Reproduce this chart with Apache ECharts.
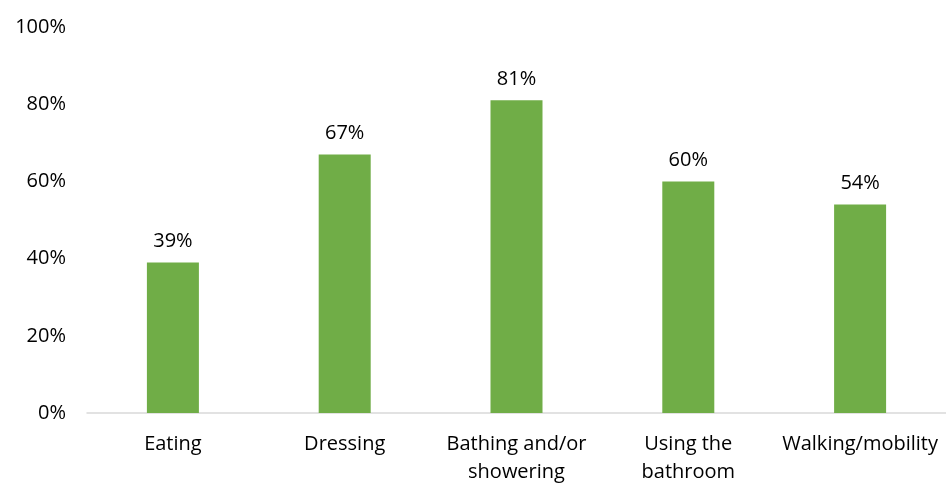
<!DOCTYPE html>
<html>
<head>
<meta charset="utf-8">
<script src="https://cdn.jsdelivr.net/npm/echarts@6/dist/echarts.min.js"></script>
<style>
  html, body { margin: 0; padding: 0; background: #fff; }
  #chart { width: 946px; height: 483px; }
</style>
</head>
<body>
<div id="chart"></div>
<script>
// Share of people needing help, by daily activity
const categories = ['Eating', 'Dressing', 'Bathing and/or\nshowering', 'Using the\nbathroom', 'Walking/mobility'];
const values = [39, 67, 81, 60, 54];
const yTicks = [0, 20, 40, 60, 80, 100];

const FONT = '"Open Sans", Lato, sans-serif';
const chart = echarts.init(document.getElementById('chart'), null, { renderer: 'canvas' });

chart.setOption({
  animation: false,
  grid: { left: 87, right: 0, top: 27, bottom: 70, containLabel: false, outerBoundsMode: 'none' },
  xAxis: {
    type: 'category',
    data: categories,
    axisLine: { lineStyle: { color: '#D9D9D9', width: 1.5 } },
    axisTick: { show: false },
    axisLabel: {
      color: '#000', fontFamily: FONT, fontSize: 20, margin: 17,
      lineHeight: 28, interval: 0
    }
  },
  yAxis: {
    type: 'value',
    min: yTicks[0],
    max: yTicks[yTicks.length - 1],
    interval: 20,
    splitLine: { show: false },
    axisLine: { show: false },
    axisTick: { show: false },
    axisLabel: {
      color: '#000', fontFamily: FONT, fontSize: 20, margin: 21,
      formatter: v => v + '%'
    }
  },
  series: [{
    type: 'bar',
    data: values,
    barWidth: 52,
    itemStyle: { color: '#70AD47' },
    label: {
      show: true, position: 'top', distance: 11,
      color: '#000', fontFamily: FONT, fontSize: 20,
      formatter: p => p.value + '%'
    }
  }]
});
</script>
</body>
</html>
